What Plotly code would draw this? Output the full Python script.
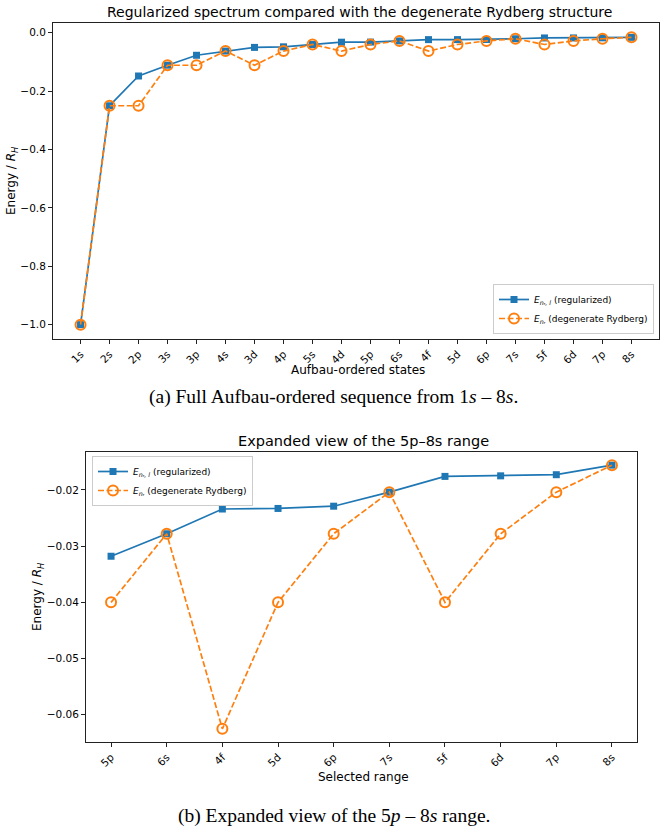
import plotly.graph_objects as go

W, H = 666, 832

states = ["1s", "2s", "2p", "3s", "3p", "4s", "3d", "4p", "5s", "4d",
          "5p", "6s", "4f", "5d", "6p", "7s", "5f", "6d", "7p", "8s"]
E_regularized = [-1.0, -0.25, -0.148, -0.111, -0.077, -0.0625, -0.050, -0.048, -0.040, -0.0322,
                 -0.0318, -0.0278, -0.0234, -0.0233, -0.0229, -0.0204, -0.0176, -0.0175, -0.0173, -0.0156]
E_rydberg = [-1.0, -0.25, -0.25, -0.1111, -0.1111, -0.0625, -0.1111, -0.0625, -0.04, -0.0625,
             -0.04, -0.0278, -0.0625, -0.04, -0.0278, -0.0204, -0.04, -0.0278, -0.0204, -0.0156]

sel_start = states.index("5p")
sel_states = states[sel_start:]
sel_reg = E_regularized[sel_start:]
sel_ryd = E_rydberg[sel_start:]

top_yticks = [-1.0, -0.8, -0.6, -0.4, -0.2, 0.0]
top_yticklabels = ["\u22121.0", "\u22120.8", "\u22120.6", "\u22120.4", "\u22120.2", "0.0"]
bot_yticks = [-0.06, -0.05, -0.04, -0.03, -0.02]
bot_yticklabels = ["\u22120.06", "\u22120.05", "\u22120.04", "\u22120.03", "\u22120.02"]

BLUE = "#1f77b4"
ORANGE = "#ff7f0e"
FONT = "DejaVu Sans"

lab_reg = "<i>E</i><sub><i>n</i>\u1d63<i>, l</i></sub> (regularized)"
lab_ryd = "<i>E</i><sub><i>n</i>\u1d63</sub> (degenerate Rydberg)"


def fx(px):
    return px / W


def fy(py):
    return 1 - py / H


fig = go.Figure()

for xs, ys_r, ys_d, xa, ya, lg in [
    (states, E_regularized, E_rydberg, "x", "y", "legend"),
    (sel_states, sel_reg, sel_ryd, "x2", "y2", "legend2"),
]:
    fig.add_trace(go.Scatter(
        x=xs, y=ys_r, mode="lines+markers", name=lab_reg,
        line=dict(color=BLUE, width=1.7),
        marker=dict(symbol="square", size=7, color=BLUE),
        xaxis=xa, yaxis=ya, legend=lg))
    fig.add_trace(go.Scatter(
        x=xs, y=ys_d, mode="lines+markers", name=lab_ryd,
        line=dict(color=ORANGE, width=1.7, dash="6px,2.5px"),
        marker=dict(symbol="circle-open", size=10, color=ORANGE, line=dict(width=2, color=ORANGE)),
        xaxis=xa, yaxis=ya, legend=lg))

axis_common = dict(showline=True, mirror=True, linecolor="#222", linewidth=1.1,
                   ticks="outside", ticklen=4, tickcolor="#222", tickwidth=1,
                   showgrid=False, zeroline=False,
                   tickfont=dict(family=FONT, size=10.5, color="black"))

legend_common = dict(bgcolor="rgba(255,255,255,0.8)", bordercolor="#ccc", borderwidth=1,
                     font=dict(family=FONT, size=9), tracegroupgap=0, itemwidth=30)

fig.update_layout(
    width=W, height=H,
    margin=dict(l=0, r=0, t=0, b=0),
    paper_bgcolor="white", plot_bgcolor="white",
    font=dict(family=FONT, color="black"),
    xaxis=dict(domain=[fx(53), fx(659)], anchor="y", type="category",
               range=[-0.95, 19.95], tickangle=-45, **axis_common),
    yaxis=dict(domain=[fy(339), fy(23)], anchor="x", range=[-1.0492, 0.0336],
               tickvals=top_yticks, ticktext=top_yticklabels, **axis_common),
    xaxis2=dict(domain=[fx(86), fx(637)], anchor="y2", type="category",
                range=[-0.45, 9.45], tickangle=-45, **axis_common),
    yaxis2=dict(domain=[fy(742), fy(452)], anchor="x2", range=[-0.06484, -0.01326],
                tickvals=bot_yticks, ticktext=bot_yticklabels, **axis_common),
    legend=dict(x=fx(654), y=fy(334), xanchor="right", yanchor="bottom", **legend_common),
    legend2=dict(x=fx(92), y=fy(456), xanchor="left", yanchor="top", **legend_common),
    showlegend=True,
)

annotations = [
    dict(text="Regularized spectrum compared with the degenerate Rydberg structure",
         x=fx(359), y=fy(12), font=dict(family=FONT, size=14)),
    dict(text="Aufbau-ordered states", x=fx(358), y=fy(370), font=dict(family=FONT, size=12)),
    dict(text="Energy / <i>R</i><sub><i>H</i></sub>", x=fx(12), y=fy(181), textangle=-90,
         font=dict(family=FONT, size=12)),
    dict(text="(a) Full Aufbau-ordered sequence from 1<i>s</i> \u2013 8<i>s</i>.",
         x=fx(333), y=fy(397), font=dict(family="Liberation Serif", size=19.5)),
    dict(text="Expanded view of the 5p\u20138s range",
         x=fx(363), y=fy(441), font=dict(family=FONT, size=14.5)),
    dict(text="Selected range", x=fx(363), y=fy(777), font=dict(family=FONT, size=12)),
    dict(text="Energy / <i>R</i><sub><i>H</i></sub>", x=fx(38), y=fy(597), textangle=-90,
         font=dict(family=FONT, size=12)),
    dict(text="(b) Expanded view of the 5<i>p</i> \u2013 8<i>s</i> range.",
         x=fx(334), y=fy(816), font=dict(family="Liberation Serif", size=19.5)),
]
for a in annotations:
    a.update(xref="paper", yref="paper", showarrow=False, xanchor="center", yanchor="middle")
fig.update_layout(annotations=annotations)

fig.write_html("out.html")
